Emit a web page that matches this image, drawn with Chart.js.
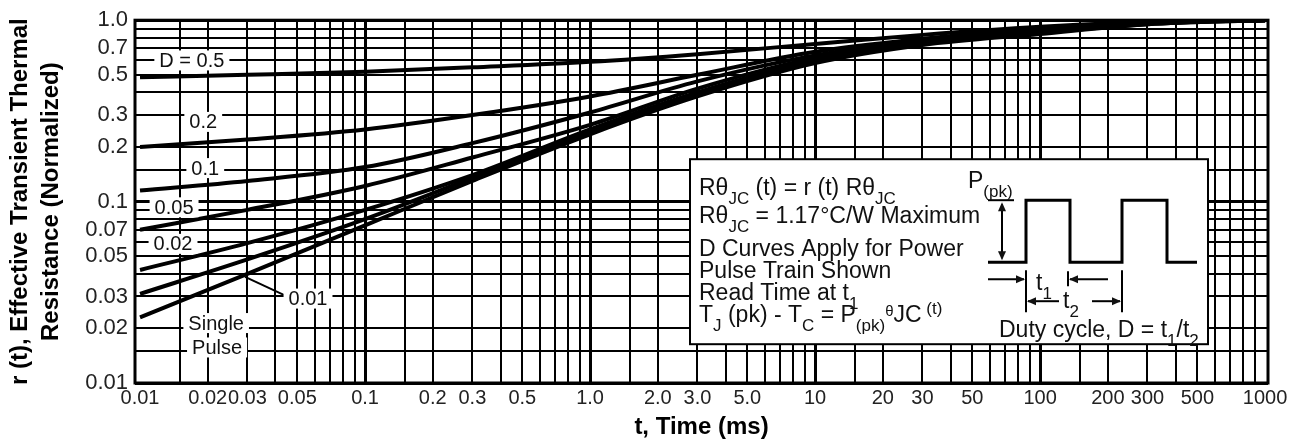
<!DOCTYPE html>
<html>
<head>
<meta charset="utf-8">
<script src="https://cdn.jsdelivr.net/npm/chart.js@4.4.1/dist/chart.umd.min.js"></script>
<style>
  html, body { margin: 0; padding: 0; background: #fff; }
</style>
</head>
<body>
<canvas id="myChart" width="1299" height="439"></canvas>
<script>
// 時間 (ms)
const timeMs = [0.01, 0.03, 0.1, 0.3, 1, 3, 10, 30, 100, 300, 1000];

// 各デューティ比の正規化過渡熱抵抗 r(t)
const dutyHalf   = [0.485, 0.50, 0.52, 0.55, 0.59, 0.65, 0.74, 0.83, 0.92, 0.98, 1.0];
const duty020    = [0.20, 0.22, 0.25, 0.30, 0.38, 0.50, 0.67, 0.79, 0.90, 0.97, 1.0];
const duty010    = [0.115, 0.13, 0.155, 0.21, 0.31, 0.46, 0.64, 0.77, 0.88, 0.97, 1.0];
const duty005    = [0.07, 0.09, 0.122, 0.175, 0.265, 0.42, 0.62, 0.76, 0.87, 0.96, 1.0];
const duty002    = [0.042, 0.059, 0.09, 0.14, 0.25, 0.40, 0.60, 0.75, 0.86, 0.96, 1.0];
const duty001    = [0.031, 0.048, 0.08, 0.135, 0.24, 0.39, 0.59, 0.74, 0.85, 0.95, 1.0];
const singlePulse = [0.023, 0.04, 0.074, 0.13, 0.235, 0.38, 0.58, 0.73, 0.84, 0.95, 1.0];

// 目盛りラベル
const xTickValues = [0.01, 0.02, 0.03, 0.05, 0.1, 0.2, 0.3, 0.5, 1, 2, 3, 5, 10, 20, 30, 50, 100, 200, 300, 500, 1000];
const xTickLabels = ['0.01', '0.02', '0.03', '0.05', '0.1', '0.2', '0.3', '0.5', '1.0', '2.0', '3.0', '5.0', '10', '20', '30', '50', '100', '200', '300', '500', '1000'];
const yTickValues = [0.01, 0.02, 0.03, 0.05, 0.07, 0.1, 0.2, 0.3, 0.5, 0.7, 1];
const yTickLabels = ['0.01', '0.02', '0.03', '0.05', '0.07', '0.1', '0.2', '0.3', '0.5', '0.7', '1.0'];

// 方眼の刻み (各桁で)
const gridSteps = [1, 1.5, 2, 3, 4, 5, 6, 7, 8, 9];

function gridValues(fromExp, toExp) {
    const out = [];
    for (let e = fromExp; e < toExp; e++) {
        gridSteps.forEach(s => out.push(+(s * Math.pow(10, e)).toPrecision(6)));
    }
    out.push(Math.pow(10, toExp));
    return out;
}
const xGrid = gridValues(-2, 3);
const yGrid = gridValues(-2, 0);

function labelFor(values, labels, v) {
    const i = values.findIndex(t => Math.abs(t - v) / t < 1e-6);
    return i >= 0 ? labels[i] : '';
}
function isDecade(v) {
    const l = Math.log10(v);
    return Math.abs(l - Math.round(l)) < 1e-6;
}

// 細字フォントがあれば使う
function hasFont(name) {
    const c = document.createElement('canvas').getContext('2d');
    c.font = '40px monospace';
    const a = c.measureText('0.0123456789 Single').width;
    c.font = '40px "' + name + '", monospace';
    const b = c.measureText('0.0123456789 Single').width;
    return Math.abs(a - b) > 0.5;
}
const SANS = '"Liberation Sans", Arial, sans-serif';
const hasNarrow = hasFont('Liberation Sans Narrow');
const TICK_FAMILY = hasNarrow ? '"Liberation Sans Narrow", ' + SANS : SANS;
const xTickSize = hasNarrow ? 23 : 20;
const yTickSize = hasNarrow ? 23 : 22;
const tagSize = hasNarrow ? 23 : 20;

// 曲線のラベル (データ座標)
const curveTags = [
    { text: 'D = 0.5', t: 0.0170, r: 0.60 },
    { text: '0.2', t: 0.0191, r: 0.275 },
    { text: '0.1', t: 0.0195, r: 0.153 },
    { text: '0.05', t: 0.01417, r: 0.093 },
    { text: '0.02', t: 0.01402, r: 0.0585 },
    { text: '0.01', t: 0.0558, r: 0.0292 },
    { text: 'Single', t: 0.0218, r: 0.0214 },
    { text: 'Pulse', t: 0.0220, r: 0.0157 },
];

const series = [dutyHalf, duty020, duty010, duty005, duty002, duty001, singlePulse];

const data = {
    labels: timeMs,
    datasets: series.map(vals => ({
        data: vals.map((v, i) => ({ x: timeMs[i], y: v })),
        borderColor: '#000',
        borderWidth: 4,
        pointRadius: 0,
        fill: false,
        cubicInterpolationMode: 'monotone',
    })),
};

// 曲線ラベルと引き出し線
const tagPlugin = {
    id: 'tags',
    afterDatasetsDraw(chart) {
        const { ctx, scales: { x, y } } = chart;
        ctx.save();
        // 0.01 の引き出し線
        ctx.strokeStyle = '#000';
        ctx.lineWidth = 2;
        ctx.beginPath();
        ctx.moveTo(x.getPixelForValue(0.0293), y.getPixelForValue(0.0385));
        ctx.lineTo(x.getPixelForValue(0.0450), y.getPixelForValue(0.0300));
        ctx.stroke();
        ctx.font = tagSize + 'px ' + TICK_FAMILY;
        ctx.textAlign = 'center';
        ctx.textBaseline = 'middle';
        curveTags.forEach(tag => {
            const px = x.getPixelForValue(tag.t);
            const py = y.getPixelForValue(tag.r);
            const w = ctx.measureText(tag.text).width;
            ctx.fillStyle = '#fff';
            ctx.fillRect(px - w / 2 - 5, py - 10, w + 10, 20);
            ctx.fillStyle = '#111';
            ctx.fillText(tag.text, px, py + 1);
        });
        ctx.restore();
    }
};

// 下付き・上付き文字つきの1行
function drawRich(ctx, x, y, parts) {
    let cx = x;
    parts.forEach(([txt, kind]) => {
        let size = 23, dy = 0;
        if (kind === 'sub') { size = 17; dy = 9; }
        if (kind === 'sup') { size = 17; dy = -8; }
        if (kind === 'small') { size = 15; dy = -6; }
        ctx.font = size + 'px ' + SANS;
        ctx.fillText(txt, cx, y + dy);
        cx += ctx.measureText(txt).width;
    });
}

function arrowHead(ctx, x, y, dir) {
    // dir: 'l','r','u','d' = 先端の向き
    const L = 9, W = 4;
    ctx.beginPath();
    ctx.moveTo(x, y);
    if (dir === 'r') { ctx.lineTo(x - L, y - W); ctx.lineTo(x - L, y + W); }
    if (dir === 'l') { ctx.lineTo(x + L, y - W); ctx.lineTo(x + L, y + W); }
    if (dir === 'u') { ctx.lineTo(x - W, y + L); ctx.lineTo(x + W, y + L); }
    if (dir === 'd') { ctx.lineTo(x - W, y - L); ctx.lineTo(x + W, y - L); }
    ctx.closePath();
    ctx.fill();
}
function line(ctx, x1, y1, x2, y2) {
    ctx.beginPath();
    ctx.moveTo(x1, y1);
    ctx.lineTo(x2, y2);
    ctx.stroke();
}

// 枠と説明ボックス
const insetPlugin = {
    id: 'inset',
    afterDraw(chart) {
        const { ctx, chartArea: a } = chart;
        ctx.save();
        ctx.strokeStyle = '#000';
        ctx.lineWidth = 3;
        ctx.strokeRect(a.left, a.top, a.right - a.left, a.bottom - a.top);

        const ox = a.left, oy = a.top;
        const bx = ox + 555, by = oy + 139, bw = 518, bh = 185;
        ctx.fillStyle = '#fff';
        ctx.fillRect(bx, by, bw, bh);
        ctx.lineWidth = 2;
        ctx.strokeRect(bx, by, bw, bh);

        ctx.fillStyle = '#111';
        ctx.textAlign = 'left';
        ctx.textBaseline = 'alphabetic';
        const tx = bx + 9;
        drawRich(ctx, tx, by + 36, [['R\u03b8', 'n'], ['JC', 'sub'], [' (t) = r (t) R\u03b8', 'n'], ['JC', 'sub']]);
        drawRich(ctx, tx, by + 64, [['R\u03b8', 'n'], ['JC', 'sub'], [' = 1.17\u00b0C/W Maximum', 'n']]);
        drawRich(ctx, tx, by + 97, [['D Curves Apply for Power', 'n']]);
        drawRich(ctx, tx, by + 119, [['Pulse Train Shown', 'n']]);
        drawRich(ctx, tx, by + 141, [['Read Time at t', 'n'], ['1', 'sub']]);
        drawRich(ctx, tx, by + 163, [['T', 'n'], ['J', 'sub'], [' (pk) - T', 'n'], ['C', 'sub'], [' = P', 'n'], ['(pk)', 'sub'], ['\u03b8', 'small'], ['JC', 'n'], [' (t)', 'sup']]);

        // パルス列の図
        const px = bx + 298, base = by + 103, top = by + 41;
        ctx.lineWidth = 3;
        ctx.beginPath();
        ctx.moveTo(px, base);
        ctx.lineTo(px + 38, base); ctx.lineTo(px + 38, top);
        ctx.lineTo(px + 82, top); ctx.lineTo(px + 82, base);
        ctx.lineTo(px + 134, base); ctx.lineTo(px + 134, top);
        ctx.lineTo(px + 179, top); ctx.lineTo(px + 179, base);
        ctx.lineTo(px + 209, base);
        ctx.stroke();

        ctx.lineWidth = 2;
        line(ctx, px, top, px + 26, top);
        line(ctx, px + 14, top + 4, px + 14, base - 4);
        arrowHead(ctx, px + 14, top + 2, 'u');
        arrowHead(ctx, px + 14, base - 2, 'd');
        drawRich(ctx, px - 20, by + 29, [['P', 'n'], ['(pk)', 'sub']]);

        // t1, t2
        const y1 = base + 17, y2 = base + 39;
        line(ctx, px + 38, base + 8, px + 38, base + 50);
        line(ctx, px + 134, base + 8, px + 134, base + 50);
        line(ctx, px + 80, base + 9, px + 80, base + 24);
        line(ctx, px, y1, px + 36, y1);
        arrowHead(ctx, px + 37, y1, 'r');
        line(ctx, px + 82, y1, px + 120, y1);
        arrowHead(ctx, px + 81, y1, 'l');
        drawRich(ctx, px + 48, base + 28, [['t', 'n'], ['1', 'sub']]);
        line(ctx, px + 40, y2, px + 71, y2);
        arrowHead(ctx, px + 39, y2, 'l');
        line(ctx, px + 104, y2, px + 132, y2);
        arrowHead(ctx, px + 133, y2, 'r');
        drawRich(ctx, px + 75, base + 46, [['t', 'n'], ['2', 'sub']]);
        drawRich(ctx, px + 11, by + 178, [['Duty cycle, D = t', 'n'], ['1', 'sub'], ['/t', 'n'], ['2', 'sub']]);
        ctx.restore();
    }
};

const config = {
    type: 'line',
    data: data,
    options: {
        responsive: false,
        animation: false,
        layout: { padding: { top: 13, right: 31, left: 0, bottom: 0 } },
        plugins: { legend: { display: false }, tooltip: { enabled: false } },
        scales: {
            x: {
                type: 'logarithmic',
                min: 0.0095,
                max: 1030,
                afterBuildTicks: s => { s.ticks = xGrid.map(v => ({ value: v })); },
                afterFit: s => { s.height = 56; },
                border: { display: false },
                grid: {
                    drawTicks: false,
                    color: ctx => (ctx.tick && (ctx.tick.value === 0.01 || ctx.tick.value === 1000)) ? 'rgba(0,0,0,0)' : '#000',
                    lineWidth: ctx => (ctx.tick && isDecade(ctx.tick.value)) ? 3 : 2,
                },
                ticks: {
                    autoSkip: false,
                    maxRotation: 0,
                    padding: hasNarrow ? 2 : 3,
                    color: '#222',
                    font: { family: TICK_FAMILY, size: xTickSize },
                    callback: v => labelFor(xTickValues, xTickLabels, v),
                },
                title: {
                    display: true,
                    text: 't, Time (ms)',
                    color: '#000',
                    font: { family: SANS, size: 24, weight: 'bold', lineHeight: 1.0 },
                    padding: { top: 0, bottom: 0 },
                },
            },
            y: {
                type: 'logarithmic',
                min: 0.01,
                max: 1,
                afterBuildTicks: s => { s.ticks = yGrid.map(v => ({ value: v })); },
                afterFit: s => { s.width = 135; },
                border: { display: false },
                grid: {
                    drawTicks: false,
                    color: '#000',
                    lineWidth: ctx => (ctx.tick && isDecade(ctx.tick.value)) ? 3 : 2,
                },
                ticks: {
                    autoSkip: false,
                    padding: 7,
                    color: '#222',
                    font: { family: TICK_FAMILY, size: yTickSize },
                    callback: v => labelFor(yTickValues, yTickLabels, v),
                },
                title: {
                    display: true,
                    text: ['r (t), Effective Transient Thermal', 'Resistance (Normalized)'],
                    color: '#000',
                    font: { family: SANS, size: 24, weight: 'bold', lineHeight: 1.3 },
                    padding: { top: 5, bottom: 0 },
                },
            },
        },
    },
    plugins: [tagPlugin, insetPlugin],
};

const myChart = new Chart(document.getElementById('myChart'), config);
</script>
</body>
</html>
